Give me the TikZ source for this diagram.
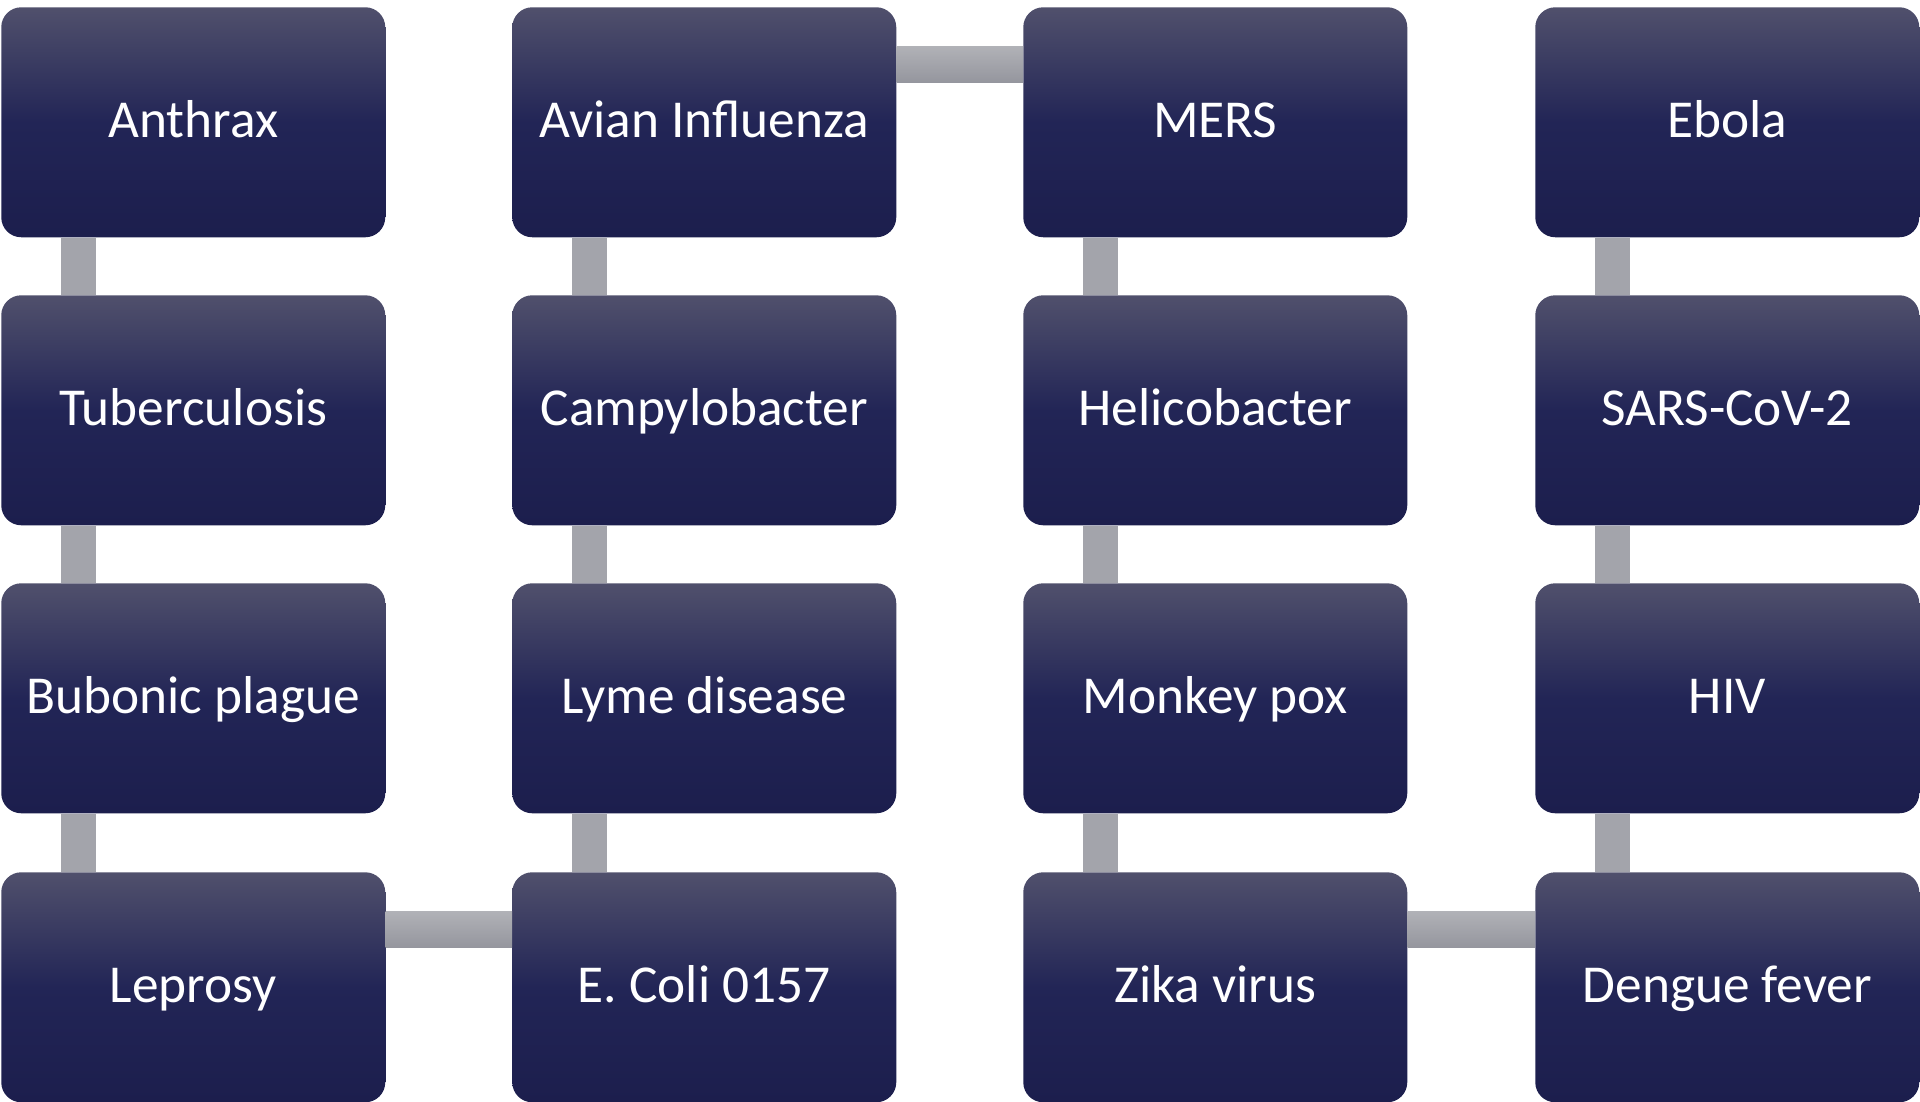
\documentclass[tikz,border=0pt]{standalone}
\usepackage{fontspec}
\setmainfont{Carlito}
\definecolor{boxtop}{RGB}{80,80,108}
\definecolor{boxmid}{RGB}{34,37,86}
\definecolor{boxbot}{RGB}{28,30,77}
\definecolor{conntop}{RGB}{177,178,183}
\definecolor{connbot}{RGB}{149,150,158}
\definecolor{connv}{RGB}{163,164,171}
\begin{document}
\begin{tikzpicture}[x=0.75pt,y=-0.75pt,
  dbox/.style={rectangle, rounded corners=15pt, minimum width=288pt, minimum height=172.5pt,
    inner sep=0pt, top color=boxtop, bottom color=boxbot, middle color=boxmid, draw=none,
    text=white, font=\fontsize{40}{48}\selectfont, text height=30pt, text depth=7.5pt,
    anchor=north west},
  vlink/.style={fill=connv},
  hlink/.style={top color=conntop, bottom color=connbot}]
\useasboundingbox (0,0) rectangle (1920,1101);
% column 1
\node[dbox] (a1) at (1,7) {Anthrax};
\node[dbox] (a2) at (1,295) {Tuberculosis};
\node[dbox] (a3) at (1,583) {Bubonic plague};
\node[dbox] (a4) at (1,872) {Leprosy};
% column 2
\node[dbox] (b1) at (512,7) {Avian Influenza};
\node[dbox] (b2) at (512,295) {Campylobacter};
\node[dbox] (b3) at (512,583) {Lyme disease};
\node[dbox] (b4) at (512,872) {E. Coli 0157};
% column 3
\node[dbox] (c1) at (1023,7) {MERS};
\node[dbox] (c2) at (1023,295) {Helicobacter};
\node[dbox] (c3) at (1023,583) {Monkey pox};
\node[dbox] (c4) at (1023,872) {Zika virus};
% column 4
\node[dbox] (d1) at (1535,7) {Ebola};
\node[dbox] (d2) at (1535,295) {SARS-CoV-2};
\node[dbox] (d3) at (1535,583) {HIV};
\node[dbox] (d4) at (1535,872) {Dengue fever};
% vertical links
\foreach \c in {a,b,c,d}{
  \path[vlink] ([xshift=45pt]\c1.south west) rectangle ([xshift=71.25pt]\c2.north west);
  \path[vlink] ([xshift=45pt]\c2.south west) rectangle ([xshift=71.25pt]\c3.north west);
  \path[vlink] ([xshift=45pt]\c3.south west) rectangle ([xshift=71.25pt]\c4.north west);
}
% horizontal links
\shade[hlink] ([yshift=-29.25pt]b1.north east) rectangle ([yshift=-56.25pt]c1.north west);
\shade[hlink] ([yshift=-29.25pt]a4.north east) rectangle ([yshift=-56.25pt]b4.north west);
\shade[hlink] ([yshift=-29.25pt]c4.north east) rectangle ([yshift=-56.25pt]d4.north west);
\end{tikzpicture}
\end{document}
